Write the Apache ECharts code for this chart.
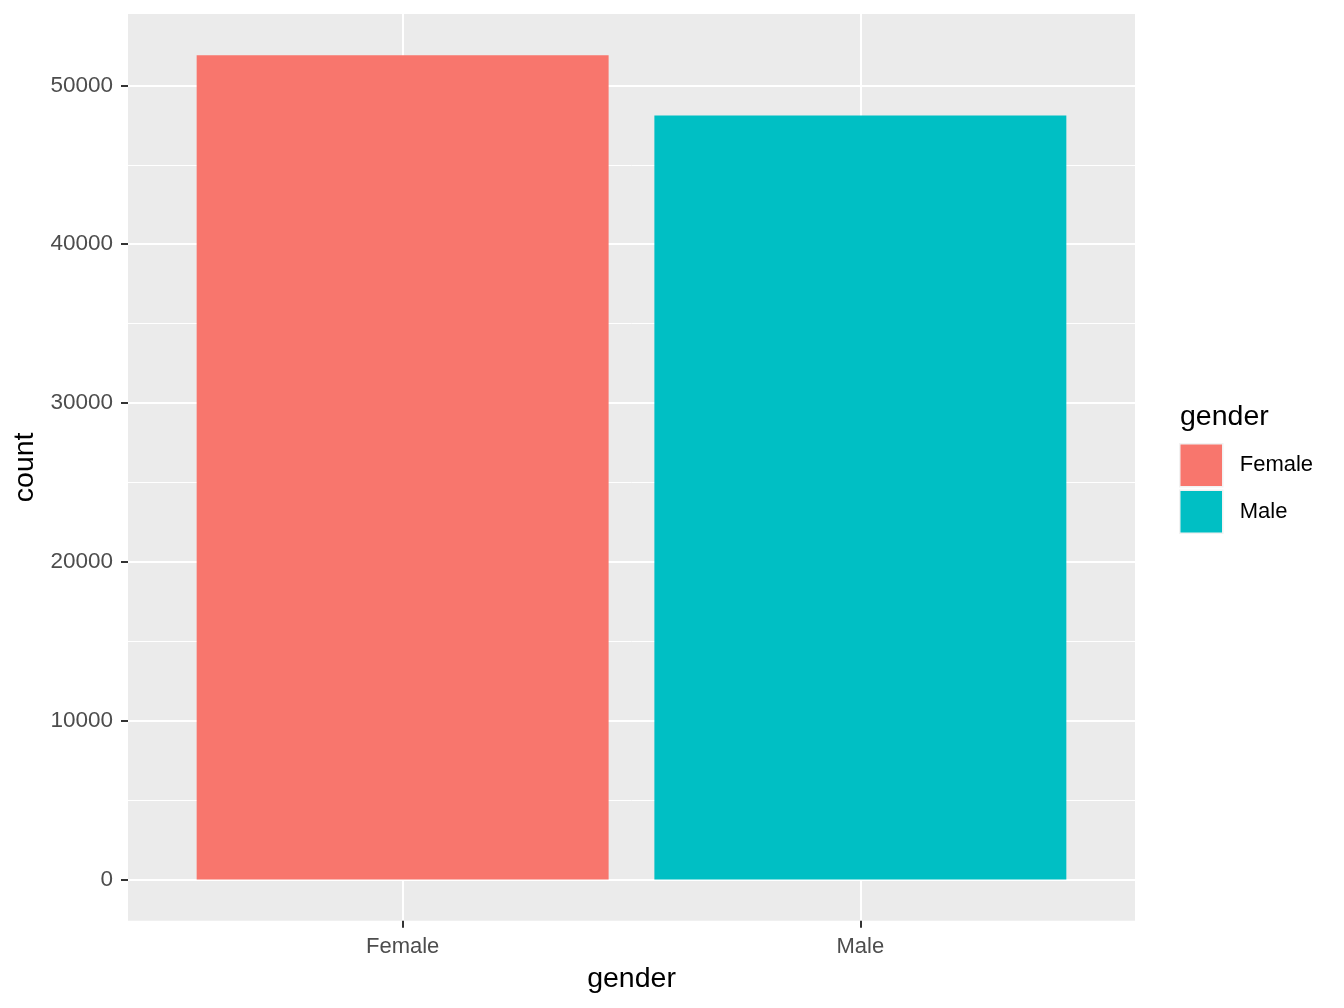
<!DOCTYPE html>
<html>
<head>
<meta charset="utf-8">
<script src="https://cdn.jsdelivr.net/npm/echarts@6/dist/echarts.min.js"></script>
<style>
html,body{margin:0;padding:0;background:#fff;}
#chart{width:1344px;height:1008px;}
</style>
</head>
<body>
<div id="chart"></div>
<script>
// ---- data ----
const categories = ['Female', 'Male'];
const categoryPositions = [1, 2];
const femaleCount = [51900];
const maleCount = [48100];
const yTicks = [0, 10000, 20000, 30000, 40000, 50000];
const yMinorTicks = [5000, 15000, 25000, 35000, 45000];
const colors = ['#F8766D', '#00BFC4'];

const FONT = 'Liberation Sans, Arial, sans-serif';
const yTop = Math.max(femaleCount[0], maleCount[0]);
const yMin = -0.05 * yTop;
const yMax = 1.05 * yTop;

const chart = echarts.init(document.getElementById('chart'), null, {renderer: 'canvas'});
chart.setOption({
  animation: false,
  backgroundColor: '#ffffff',
  textStyle: {fontFamily: FONT},
  title: {
    text: 'gender',
    left: 1180,
    top: 403,
    padding: 0,
    textStyle: {fontFamily: FONT, fontSize: 28.5, fontWeight: 'normal', color: '#000'}
  },
  legend: {
    orient: 'vertical',
    left: 1179,
    top: 443,
    padding: 0,
    itemWidth: 43,
    itemHeight: 43,
    itemGap: 2,
    icon: 'rect',
    itemStyle: {borderColor: '#F2F2F2', borderWidth: 1.5},
    textStyle: {fontFamily: FONT, fontSize: 22, color: '#000', padding: [2, 0, 0, 12]},
    data: ['Female', 'Male']
  },
  grid: {
    left: 128, right: 209, top: 14, bottom: 87.3,
    show: true, backgroundColor: '#EBEBEB', borderWidth: 0,
    containLabel: false
  },
  xAxis: {
    type: 'value',
    min: categoryPositions[0] - 0.6,
    max: categoryPositions[categoryPositions.length - 1] + 0.6,
    name: 'gender',
    nameLocation: 'middle',
    nameGap: 44,
    nameTextStyle: {fontFamily: FONT, fontSize: 28.5, color: '#000'},
    axisLine: {show: false, onZero: false},
    axisTick: {show: true, length: 7, customValues: categoryPositions, lineStyle: {color: '#333333', width: 2}},
    axisLabel: {
      show: true, margin: 15, customValues: categoryPositions,
      fontFamily: FONT, fontSize: 22, color: '#4D4D4D',
      formatter: function (v) { const i = categoryPositions.indexOf(Math.round(v)); return i >= 0 ? categories[i] : ''; }
    },
    splitLine: {show: true, lineStyle: {color: '#FFFFFF', width: 2}},
    minorSplitLine: {show: false}
  },
  yAxis: [{
    type: 'value',
    min: yMin,
    max: yMax,
    position: 'left',
    name: 'count',
    nameLocation: 'middle',
    nameGap: 85,
    nameRotate: 90,
    nameTextStyle: {fontFamily: FONT, fontSize: 28.5, color: '#000'},
    axisLine: {show: false, onZero: false},
    axisTick: {show: true, length: 7, customValues: yTicks, lineStyle: {color: '#333333', width: 2}},
    axisLabel: {
      show: true, margin: 15, customValues: yTicks,
      fontFamily: FONT, fontSize: 22.5, color: '#4D4D4D',
      formatter: function (v) { return String(Math.round(v)); }
    },
    splitLine: {show: true, lineStyle: {color: '#FFFFFF', width: 2}}
  }, {
    type: 'value',
    min: yMin,
    max: yMax,
    position: 'left',
    axisLine: {show: false, onZero: false},
    axisTick: {show: false, customValues: yMinorTicks},
    axisLabel: {show: false, customValues: yMinorTicks},
    splitLine: {show: true, lineStyle: {color: '#FFFFFF', width: 1}}
  }],
  series: [{
    name: 'Female',
    type: 'bar',
    xAxisIndex: 0,
    yAxisIndex: 0,
    barWidth: '90%',
    barGap: '-100%',
    itemStyle: {color: colors[0]},
    data: femaleCount.map((v) => [categoryPositions[0], v])
  }, {
    name: 'Male',
    type: 'bar',
    xAxisIndex: 0,
    yAxisIndex: 0,
    barWidth: '90%',
    barGap: '-100%',
    itemStyle: {color: colors[1]},
    data: maleCount.map((v) => [categoryPositions[1], v])
  }]
});
</script>
</body>
</html>
